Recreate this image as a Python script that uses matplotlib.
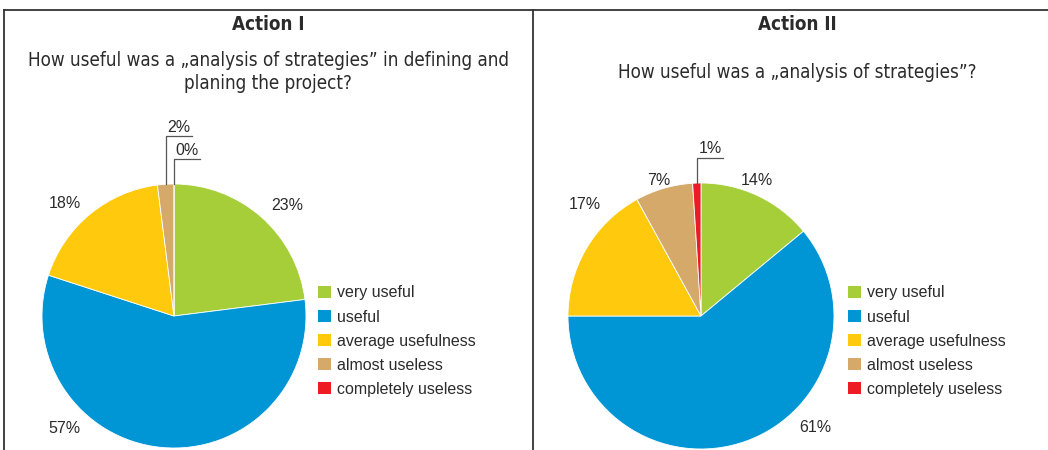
import matplotlib
matplotlib.use("Agg")
import matplotlib.pyplot as plt
from matplotlib.patches import Patch
from matplotlib.lines import Line2D
import numpy as np

categories = ["very useful", "useful", "average usefulness", "almost useless", "completely useless"]
colors = ["#A6CE39", "#0096D6", "#FFC90E", "#D4A96A", "#ED1C24"]

action1_values = [23, 57, 18, 2, 0]
action2_values = [14, 61, 17, 7, 1]

action1_title = "Action I"
action1_question = "How useful was a \u201eanalysis of strategies\u201d in defining and\nplaning the project?"
action2_title = "Action II"
action2_question = "How useful was a \u201eanalysis of strategies\u201d?"

# label positions in pie units (radius = 1); None means use a leader line
action1_label_pos = [(0.86, 0.84), (-0.83, -0.85), (-0.83, 0.85), None, None]
action2_label_pos = [(0.42, 1.02), (0.86, -0.84), (-0.87, 0.84), (-0.32, 1.02), None]
# leader-line label heights (top of the vertical tick) for the tiny slices
action1_leader = {3: 1.36, 4: 1.19}
action2_leader = {4: 1.19}

W, H = 1048, 450
fig = plt.figure(figsize=(W / 100, H / 100), dpi=100)

BODY_FONT = ["Liberation Sans", "DejaVu Sans"]
TXT = "#2B2B2B"
title_kw = dict(family="DejaVu Sans", fontstretch="condensed", color=TXT)


def px_axes(cx, cy, r):
    return fig.add_axes([(cx - r) / W, (H - cy - r) / H, 2 * r / W, 2 * r / H])


def draw_pie(ax, values, label_pos, leader):
    ax.pie(values, colors=colors, startangle=90, counterclock=False, radius=1,
           wedgeprops=dict(linewidth=0.6, edgecolor="white"), center=(0, 0))
    ax.set_xlim(-1, 1)
    ax.set_ylim(-1, 1)
    ax.set_aspect("equal")
    ax.axis("off")
    total = sum(values)
    cum = np.cumsum([0] + values)
    for i, v in enumerate(values):
        txt = f"{v}%"
        if label_pos[i] is not None:
            x, y = label_pos[i]
            ax.text(x, y, txt, ha="center", va="center", fontsize=11.5,
                    family=BODY_FONT, color=TXT, clip_on=False)
        else:
            mid = (cum[i] + cum[i + 1]) / 2 / total
            ang = np.deg2rad(90 - 360 * mid)
            x0 = np.cos(ang)
            top = leader[i]
            ax.add_line(Line2D([x0, x0, x0 + 0.2], [np.sin(ang), top, top],
                               color="#555555", lw=0.9, clip_on=False))
            ax.text(x0 + 0.1, top + 0.01, txt, ha="center", va="bottom", fontsize=11.5,
                    family=BODY_FONT, color=TXT, clip_on=False)


ax1 = px_axes(174, 316, 132)
draw_pie(ax1, action1_values, action1_label_pos, action1_leader)
ax2 = px_axes(701, 316, 133)
draw_pie(ax2, action2_values, action2_label_pos, action2_leader)

handles = [Patch(facecolor=c, edgecolor="none") for c in colors]
for lx in (318, 848):
    fig.legend(handles, categories, loc="upper left",
               bbox_to_anchor=(lx / W, 1 - 285.5 / H), bbox_transform=fig.transFigure,
               frameon=False, borderpad=0, borderaxespad=0,
               handlelength=0.8, handleheight=0.8, handletextpad=0.4,
               labelspacing=0.565, prop=dict(family=BODY_FONT, size=11.5),
               labelcolor=TXT)

# titles
fig.text(268 / W, 1 - 25 / H, action1_title, ha="center", va="center",
         fontsize=13.5, fontweight="bold", **title_kw)
fig.text(268 / W, 1 - 72 / H, action1_question, ha="center", va="center",
         fontsize=13.5, linespacing=1.25, **title_kw)
fig.text(797 / W, 1 - 25 / H, action2_title, ha="center", va="center",
         fontsize=13.5, fontweight="bold", **title_kw)
fig.text(797 / W, 1 - 73 / H, action2_question, ha="center", va="center",
         fontsize=13.5, **title_kw)

# panel frame
frame = dict(color="#333333", lw=1.3, transform=fig.transFigure)
fig.add_artist(Line2D([4 / W, 1], [1 - 10 / H, 1 - 10 / H], **frame))
fig.add_artist(Line2D([4 / W, 4 / W], [0, 1 - 10 / H], **frame))
fig.add_artist(Line2D([533 / W, 533 / W], [0, 1 - 10 / H], **frame))

fig.savefig("out.png", dpi=100, facecolor="white")
